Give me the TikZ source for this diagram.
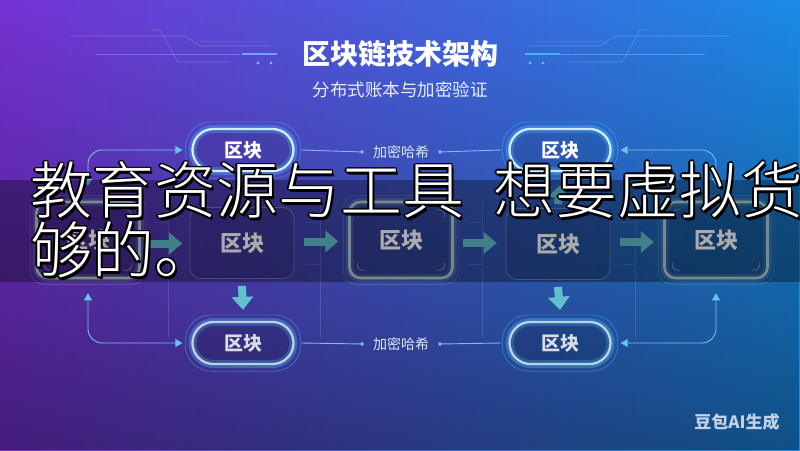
\documentclass[tikz,border=0pt]{standalone}
\usepackage{fontspec}
\usetikzlibrary{arrows.meta,calc,fadings}
\newfontfamily\cjk{Noto Sans CJK SC}
\IfFontExistsTF{AR PL UKai CN}{\newfontfamily\kaifont{AR PL UKai CN}}{%
  \IfFontExistsTF{Noto Sans CJK SC Light}{\newfontfamily\kaifont{Noto Sans CJK SC Light}}{\newfontfamily\kaifont{Noto Sans CJK SC}}}
\definecolor{bgL}{RGB}{118,50,212}
\definecolor{bgM}{RGB}{56,86,214}
\definecolor{bgR}{RGB}{26,140,230}
\definecolor{pillline}{RGB}{205,238,255}
\definecolor{glowc}{RGB}{80,190,255}
\definecolor{tealA}{RGB}{96,192,204}
\definecolor{linec}{RGB}{125,190,238}
\definecolor{tipc}{RGB}{95,200,235}
\definecolor{blkline}{RGB}{172,206,212}
\definecolor{greypill}{RGB}{190,210,222}
\definecolor{greytext}{RGB}{215,222,232}
\definecolor{lblc}{RGB}{220,230,255}
\definecolor{decoL}{RGB}{120,160,255}
\definecolor{dotL}{RGB}{140,175,255}
\definecolor{decoR}{RGB}{70,180,255}
\definecolor{dotR}{RGB}{90,190,255}
\definecolor{subc}{RGB}{232,238,255}
\definecolor{wmc}{RGB}{196,208,228}
\tikzfading[name=fadedown, top color=transparent!100, bottom color=transparent!0]
\tikzset{
  toppill/.style={draw=pillline, line width=2.3pt, rounded corners=21pt,
    minimum width=101pt, minimum height=42pt, fill=black, fill opacity=0.08, text opacity=1,
    text=white, font=\cjk\bfseries\fontsize{19}{19}\selectfont,
    preaction={draw=glowc, line width=8pt, draw opacity=0.35}},
  botpill/.style={toppill, draw=greypill, text=greytext, fill opacity=0.15},
  ring/.style={draw=glowc, draw opacity=0.45, line width=0.7pt, rounded corners=26pt},
  hblock/.style={draw=blkline, line width=2.6pt, rounded corners=11pt,
    minimum width=103pt, minimum height=76pt, fill=black, fill opacity=0.12, text opacity=1,
    text=white, font=\cjk\bfseries\fontsize{22}{22}\selectfont,
    preaction={draw=blkline, line width=8pt, draw opacity=0.2}},
  dblock/.style={draw=white, draw opacity=0.28, line width=0.8pt, rounded corners=11pt,
    minimum width=104pt, minimum height=71pt, fill=black, fill opacity=0.1, text opacity=1,
    text=white, font=\cjk\bfseries\fontsize{22}{22}\selectfont},
  hring/.style={draw=blkline, draw opacity=0.3, line width=0.6pt, rounded corners=14pt},
  brk/.style={draw=blkline, draw opacity=0.6, line width=0.8pt, rounded corners=5pt},
  bigarrow/.style={draw=tealA, line width=8pt, -{Triangle[width=21pt,length=13pt]}},
  conn/.style={draw=linec, line width=0.9pt, -{Circle[length=3.6pt]}},
  curv/.style={draw=linec, line width=0.9pt, rounded corners=14pt,
    {Triangle[width=8pt,length=7pt,color=tipc]}-{Triangle[width=8pt,length=7pt,color=tipc]}},
  lbl/.style={text=lblc, font=\cjk\fontsize{14}{14}\selectfont, inner sep=3pt},
  faint/.style={draw=white, draw opacity=0.13, line width=0.6pt},
  deco/.style={draw=white, draw opacity=0.22, line width=0.6pt},
  ovl/.style={font=\kaifont\fontsize{62}{62}\selectfont, anchor=west, inner sep=0pt}
}
\newcommand\ovtxt[4]{%
  \foreach \dx/\dy [count=\k] in {1.6/0,-1.6/0,0/1.6,0/-1.6,1.2/1.2,-1.2/1.2,1.2/-1.2,-1.2/-1.2,2.6/2.6}{%
    \node[ovl,text=black] (#1s\k) at (#2+\dx,#3+\dy) {#4};}%
  \node[ovl,text=white] (#1) at (#2,#3) {#4};}
\begin{document}
\begin{tikzpicture}[x=1pt,y=-1pt]
\useasboundingbox (0,0) rectangle (800,450);
% background
\shade[left color=bgL, middle color=bgM, right color=bgR] (0,0) rectangle (800,450);
\fill[black, opacity=0.42, path fading=fadedown] (0,0) rectangle (800,450);

% title decorations
\draw[deco] (70,36) -- (185,36) -- (200,46) -- (272,46);
\draw[deco] (95,54) -- (240,54);
\draw[deco] (150,30) -- (160,30) -- (178,62) -- (230,62);
\draw[deco, dotted, line width=1pt] (197,41) -- (267,41);
\draw[draw=decoL, line width=2.6pt] (242,54) -- (277,54);
\fill[dotL] (258,63) circle (1.6) (271,63) circle (1.6);
\draw[deco] (730,36) -- (615,36) -- (600,46) -- (528,46);
\draw[deco] (705,54) -- (560,54);
\draw[deco] (650,30) -- (640,30) -- (622,62) -- (570,62);
\draw[deco, dotted, line width=1pt] (603,41) -- (533,41);
\draw[draw=decoR, line width=2.6pt] (525,54) -- (560,54);
\fill[dotR] (530,63) circle (1.6) (543,63) circle (1.6);

\node[font=\cjk\bfseries\fontsize{28}{28}\selectfont, text=white] (title) at (400,54) {区块链技术架构};
\node[font=\cjk\fontsize{17.5}{17.5}\selectfont, text=subc] (subtitle) at (400,90) {分布式账本与加密验证};

% faint grid lines
\foreach \vx in {168,320,482,635}{
  \draw[faint] (\vx,196) -- (\vx,338);
  \draw[faint] (\vx-14,222) -- (\vx,222);
  \draw[faint] (\vx-14,264) -- (\vx,264);
}

% pills
\node[toppill] (p1) at (243,150) {区块};
\node[toppill] (p2) at (560,150) {区块};
\node[botpill] (p3) at (243,343) {区块};
\node[botpill] (p4) at (560,343) {区块};
\foreach \p in {p1,p2,p3,p4}{
  \draw[ring] ([shift={(-6,6)}]\p.south west) rectangle ([shift={(6,-6)}]\p.north east);
}

% blocks
\node[hblock] (b1) at (88,240) {区块};
\node[dblock] (b2) at (242,243) {区块};
\node[hblock] (b3) at (401,240) {区块};
\node[dblock] (b4) at (558,244) {区块};
\node[hblock] (b5) at (716,240) {区块};
\foreach \b in {b1,b3,b5}{
  \draw[hring] ([shift={(-5,5)}]\b.south west) rectangle ([shift={(5,-5)}]\b.north east);
  \draw[brk] ($(\b.north west)+(9,17)$) -- ++(0,-8) -- ++(8,0);
  \draw[brk] ($(\b.north east)+(-17,9)$) -- ++(8,0) -- ++(0,8);
  \draw[brk] ($(\b.south west)+(9,-17)$) -- ++(0,8) -- ++(8,0);
  \draw[brk] ($(\b.south east)+(-9,-17)$) -- ++(0,8) -- ++(-8,0);
}

% big arrows between blocks
\draw[bigarrow] ($($(b1.east)!0.5!(b2.west)$)+(-17,2)$) -- ($($(b1.east)!0.5!(b2.west)$)+(17,2)$);
\draw[bigarrow] ($($(b2.east)!0.5!(b3.west)$)+(-17,0)$) -- ($($(b2.east)!0.5!(b3.west)$)+(17,0)$);
\draw[bigarrow] ($($(b3.east)!0.5!(b4.west)$)+(-17,1)$) -- ($($(b3.east)!0.5!(b4.west)$)+(17,1)$);
\draw[bigarrow] ($($(b4.east)!0.5!(b5.west)$)+(-17,0)$) -- ($($(b4.east)!0.5!(b5.west)$)+(17,0)$);
\draw[bigarrow] ([yshift=-7pt]b2.south) -- ([yshift=11pt]p3.north);
\draw[bigarrow] ([yshift=-7pt]b4.south) -- ([yshift=11pt]p4.north);
\draw[bigarrow] ([yshift=4pt]b4.north) -- ([yshift=-13pt]p2.south);

% hash labels and lines
\node[lbl] (l1) at (401,152) {加密哈希};
\node[lbl] (l2) at (401,344) {加密哈希};
\draw[conn] ([xshift=7pt]p1.east) -- ([xshift=-6pt]l1.west);
\draw[conn] ([xshift=-7pt]p2.west) -- ([xshift=6pt]l1.east);
\draw[conn] ([xshift=7pt]p3.east) -- ([xshift=-6pt]l2.west);
\draw[conn] ([xshift=-7pt]p4.west) -- ([xshift=6pt]l2.east);

% curved side connectors
\draw[curv] ([yshift=15pt]b1.north) |- ([xshift=-9pt]p1.west);
\draw[curv] ([xshift=9pt]p2.east) -| ([yshift=15pt]b5.north);
\draw[curv] ([yshift=-14pt]b1.south) |- ([xshift=-9pt]p3.west);
\draw[curv] ([xshift=9pt]p4.east) -| ([yshift=-14pt]b5.south);

% dark band with overlaid text
\fill[black, opacity=0.33] (0,180) rectangle (800,282);
\ovtxt{ovA}{30}{190}{教育资源与工具}
\ovtxt{ovB}{493}{190}{想要虚拟货}
\ovtxt{ovC}{30}{250}{够的。}

% watermark
\node[font=\cjk\bfseries\fontsize{17}{17}\selectfont, text=wmc] (wm) at (737,422) {豆包AI生成};
\end{tikzpicture}
\end{document}
